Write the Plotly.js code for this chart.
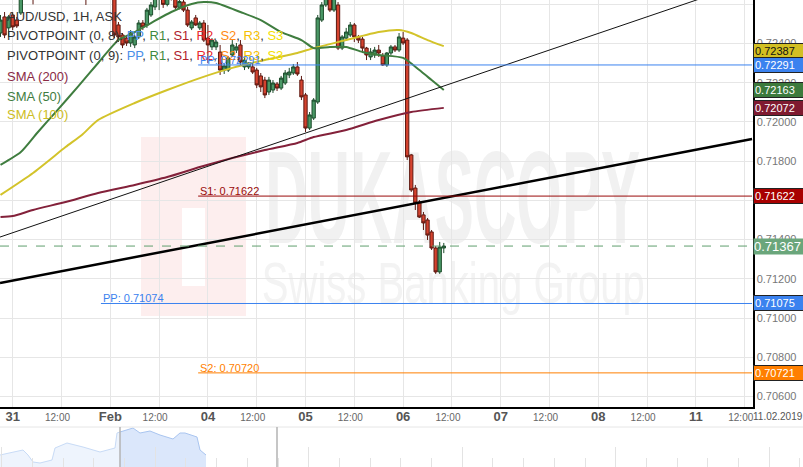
<!DOCTYPE html>
<html><head><meta charset="utf-8">
<script src="https://cdn.plot.ly/plotly-3.0.1.min.js"></script>
<style>html,body{margin:0;padding:0;background:#fff}#chart{width:803px;height:467px}</style>
</head><body><div id="chart"></div>
<script>
// Hour index: 0 = 31 Jan 2019 00:00, weekend hours removed (48 = 04 Feb 00:00)
const candleFirstHour = -3;
const open  = [0.72454,0.72536,0.72480,0.72546,0.72520,0.72556,0.72640,0.72660,0.72650,0.72640,0.72675,0.72710,0.72700,0.72740,0.72730,0.72720,0.72700,0.72720,0.72750,0.72730,0.72700,0.72680,0.72660,0.72640,0.72680,0.72710,0.72690,0.72700,0.72680,0.72495,0.72444,0.72428,0.72403,0.72393,0.72434,0.72505,0.72495,0.72546,0.72587,0.72630,0.72660,0.72600,0.72650,0.72635,0.72585,0.72612,0.72571,0.72480,0.72531,0.72480,0.72505,0.72428,0.72383,0.72383,0.72357,0.72265,0.72265,0.72342,0.72367,0.72393,0.72281,0.72281,0.72281,0.72265,0.72235,0.72214,0.72153,0.72163,0.72194,0.72173,0.72199,0.72240,0.72250,0.72281,0.72214,0.72138,0.71969,0.72020,0.72102,0.72520,0.72597,0.72640,0.72571,0.72597,0.72377,0.72428,0.72444,0.72495,0.72434,0.72423,0.72377,0.72332,0.72342,0.72367,0.72337,0.72291,0.72352,0.72383,0.72367,0.72428,0.72418,0.71832,0.71663,0.71592,0.71526,0.71500,0.71439,0.71357,0.71235,0.71357];
const high  = [0.72546,0.72561,0.72546,0.72561,0.72536,0.72670,0.72670,0.72690,0.72665,0.72680,0.72720,0.72740,0.72750,0.72770,0.72760,0.72750,0.72730,0.72760,0.72780,0.72750,0.72720,0.72700,0.72680,0.72690,0.72720,0.72730,0.72720,0.72720,0.72700,0.72510,0.72454,0.72438,0.72469,0.72444,0.72520,0.72520,0.72582,0.72612,0.72650,0.72670,0.72680,0.72660,0.72670,0.72645,0.72625,0.72630,0.72587,0.72520,0.72546,0.72515,0.72520,0.72495,0.72428,0.72418,0.72393,0.72296,0.72337,0.72418,0.72403,0.72418,0.72327,0.72306,0.72306,0.72276,0.72250,0.72230,0.72230,0.72214,0.72204,0.72235,0.72265,0.72276,0.72296,0.72306,0.72235,0.72148,0.72051,0.72122,0.72546,0.72612,0.72680,0.72670,0.72660,0.72612,0.72444,0.72480,0.72510,0.72505,0.72444,0.72434,0.72383,0.72377,0.72383,0.72393,0.72352,0.72357,0.72393,0.72393,0.72454,0.72459,0.72428,0.71837,0.71679,0.71602,0.71541,0.71510,0.71449,0.71367,0.71388,0.71383];
const low   = [0.72434,0.72428,0.72434,0.72469,0.72480,0.72546,0.72628,0.72640,0.72600,0.72630,0.72660,0.72690,0.72690,0.72720,0.72700,0.72690,0.72670,0.72700,0.72720,0.72690,0.72660,0.72597,0.72640,0.72630,0.72660,0.72670,0.72660,0.72650,0.72428,0.72408,0.72377,0.72388,0.72383,0.72377,0.72423,0.72469,0.72480,0.72536,0.72571,0.72571,0.72582,0.72590,0.72620,0.72575,0.72575,0.72561,0.72485,0.72469,0.72490,0.72469,0.72408,0.72301,0.72367,0.72367,0.72240,0.72245,0.72255,0.72332,0.72352,0.72291,0.72265,0.72270,0.72245,0.72173,0.72153,0.72122,0.72138,0.72148,0.72158,0.72163,0.72189,0.72224,0.72240,0.72235,0.72112,0.71949,0.71959,0.72010,0.72092,0.72510,0.72587,0.72561,0.72561,0.72367,0.72367,0.72418,0.72434,0.72408,0.72403,0.72357,0.72316,0.72316,0.72327,0.72332,0.72286,0.72281,0.72342,0.72357,0.72357,0.72393,0.71806,0.71643,0.71551,0.71510,0.71449,0.71398,0.71347,0.71225,0.71225,0.71331];
const close = [0.72520,0.72444,0.72536,0.72485,0.72490,0.72638,0.72660,0.72650,0.72630,0.72675,0.72710,0.72700,0.72740,0.72730,0.72720,0.72700,0.72720,0.72750,0.72730,0.72700,0.72680,0.72660,0.72640,0.72680,0.72710,0.72690,0.72700,0.72680,0.72444,0.72434,0.72393,0.72403,0.72454,0.72434,0.72505,0.72485,0.72571,0.72597,0.72638,0.72660,0.72600,0.72650,0.72635,0.72585,0.72615,0.72571,0.72495,0.72510,0.72495,0.72505,0.72418,0.72393,0.72418,0.72408,0.72265,0.72286,0.72327,0.72393,0.72383,0.72306,0.72316,0.72301,0.72255,0.72189,0.72179,0.72138,0.72214,0.72199,0.72173,0.72224,0.72250,0.72255,0.72281,0.72245,0.72128,0.71969,0.72036,0.72112,0.72531,0.72597,0.72650,0.72571,0.72633,0.72377,0.72434,0.72459,0.72495,0.72434,0.72418,0.72377,0.72342,0.72357,0.72367,0.72352,0.72291,0.72352,0.72383,0.72367,0.72434,0.72403,0.71822,0.71653,0.71587,0.71515,0.71485,0.71423,0.71357,0.71235,0.71362,0.71367];

// Moving averages (hour index, price)
const sma50Hours  = [-3,2,6,11,16,21,26,30,34,39,44,47,50,56,61,66,71,74,78,82,86,90,96,100,103,106];
const sma50Values = [0.71781,0.71847,0.71944,0.72061,0.72179,0.72301,0.72418,0.72459,0.72505,0.72561,0.72602,0.72612,0.72607,0.72561,0.72520,0.72459,0.72418,0.72377,0.72383,0.72383,0.72357,0.72342,0.72327,0.72265,0.72214,0.72163];
const sma100Hours  = [-3,5,13,17,21,30,38,46,54,62,70,74,82,90,95,98,102,106];
const sma100Values = [0.71628,0.71740,0.71872,0.71934,0.72010,0.72097,0.72163,0.72224,0.72276,0.72316,0.72352,0.72377,0.72418,0.72459,0.72469,0.72454,0.72418,0.72387];
const sma200Hours  = [-3,0,5,13,21,30,38,46,54,62,70,74,82,90,98,106];
const sma200Values = [0.71515,0.71520,0.71551,0.71592,0.71638,0.71679,0.71719,0.71770,0.71816,0.71857,0.71893,0.71923,0.71959,0.72010,0.72051,0.72072];

// Trend lines (hour index, price)
const trendThinHours = [-3.12,181.8];
const trendThinValues = [0.71413,0.72719];
const trendThickHours = [-3.12,181.8];
const trendThickValues = [0.71179,0.71913];

// Pivot levels
const pivotNames  = ['PP','S1','PP','S2'];
const pivotValues = [0.72291,0.71622,0.71074,0.70720];
const pivotStart  = [45.6,45.6,21.7,45.6];
const chartEndHour = 181.8;
const lastPrice = 0.71367;

// Price tags on the right axis
const tagValues = [0.72387,0.72291,0.72163,0.72072,0.71622,0.71075,0.70721];

// Axes
const priceTicks = [0.706,0.708,0.710,0.712,0.714,0.716,0.718,0.720,0.722,0.724,0.726];
const halfDayHours = [12,36,60,84,108,132,156,180];
const dayHours = [0,24,48,72,96,120,144,168];
const dayLabels = ['31','Feb','04','05','06','07','08','11'];

// Navigator (position, height)
const navX1 = [0,23,28,33,40,52,55,67,83,100,115,117,120];
const navY1 = [12,17,12,5,4,7,19,24,20,15,19,34,35];
const navX2 = [120,133,140,150,160,173,180,185,197,200,206];
const navY2 = [35,39,34,36,32,28,34,34,30,17,12];

const FONT = 'Liberation Sans, Arial, sans-serif';
const candleX = open.map((_, i) => candleFirstHour + i);
const xRange = [-3.1227, 182.03];
const yRange = [0.705459, 0.726224];
const XD = 753/803;
const YD0 = 60/467;

const traces = [];
traces.push({type:'candlestick', x:candleX, open:open, high:high, low:low, close:close,
  increasing:{line:{color:'#1d4d2c',width:1}, fillcolor:'#4a9866'},
  decreasing:{line:{color:'#5c1810',width:1}, fillcolor:'#d5432f'},
  whiskerwidth:0, hoverinfo:'skip', showlegend:false, xaxis:'x', yaxis:'y'});
function line(x,y,color,width,dash){
  traces.push({type:'scatter',mode:'lines',x:x,y:y,line:{color:color,width:width,dash:dash||'solid',shape:'spline',smoothing:0.6},hoverinfo:'skip',showlegend:false,xaxis:'x',yaxis:'y'});
}
line(sma200Hours, sma200Values, '#83213a', 2);
line(sma100Hours, sma100Values, '#d3c32a', 2);
line(sma50Hours, sma50Values, '#3f7d3f', 2);
line(trendThinHours, trendThinValues, '#111', 1);
line(trendThickHours, trendThickValues, '#000', 2.5);
const pivotColors = ['#3b82ef','#990a0a','#3b82ef','#ff7f00'];
pivotValues.forEach((v,i)=>line([pivotStart[i],chartEndHour],[v,v],pivotColors[i],1));
line([xRange[0],chartEndHour],[lastPrice,lastPrice],'#5f9e6e',1,'dash');
// invisible helper on the day-label axis
traces.push({type:'scatter',mode:'markers',x:[dayHours[0]],y:[lastPrice],marker:{opacity:0},hoverinfo:'skip',showlegend:false,xaxis:'x2',yaxis:'y'});
// navigator
traces.push({type:'scatter',mode:'lines',x:navX1,y:navY1,fill:'tozeroy',fillcolor:'#eef4fd',line:{color:'#c8dbf6',width:1},hoverinfo:'skip',showlegend:false,xaxis:'x3',yaxis:'y3'});
traces.push({type:'scatter',mode:'lines',x:navX2,y:navY2,fill:'tozeroy',fillcolor:'#dbe7fb',line:{color:'#a9c5f0',width:1},hoverinfo:'skip',showlegend:false,xaxis:'x3',yaxis:'y3'});

const ann = [];
const py = px => 1 - px/467;
function leftText(t,ypx,color){ ann.push({xref:'paper',yref:'paper',x:5/803,y:py(ypx),xanchor:'left',yanchor:'middle',text:t,showarrow:false,font:{family:FONT,size:13,color:color||'#333'}}); }
const sp=(c,t)=>`<span style="color:${c}">${t}</span>`;
const pivLegend = [sp('#4a8fe8','PP'),sp('#3e8a3e','R1'),sp('#b0202c','S1'),sp('#e8282e','R2'),sp('#ff8a14','S2'),sp('#f5bf00','R3'),sp('#f5e000','S3')].join(', ');
// watermark first (moved under the plot after drawing)
ann.push({xref:'paper',yref:'paper',x:452/803,y:py(197),xanchor:'center',yanchor:'middle',text:'DUKASCOPY',showarrow:false,font:{family:FONT,size:132,color:'#f1f1f1',weight:'bold'}});
ann.push({xref:'paper',yref:'paper',x:453/803,y:py(282),xanchor:'center',yanchor:'middle',text:'Swiss Banking Group',showarrow:false,font:{family:FONT,size:58,color:'#f3f3f3'}});
leftText('AUD/USD, 1H, ASK',16);
leftText('PIVOTPOINT (0, 8): '+pivLegend,35);
leftText('PIVOTPOINT (0, 9): '+pivLegend,55);
leftText('SMA (200)',76,'#8a2a45');
leftText('SMA (50)',96,'#3f7d3f');
leftText('SMA (100)',115,'#cdbd22');
pivotValues.forEach((v,i)=>ann.push({xref:'x',yref:'y',x:pivotStart[i],y:v,xanchor:'left',yanchor:'bottom',yshift:-3,text:pivotNames[i]+': '+v.toFixed(5),showarrow:false,font:{family:FONT,size:11,color:pivotColors[i]}}));
const tagColors = ['#d2bf22','#3b82ef','#3c7a3c','#7f1a30','#a80000','#3b82ef','#ff7f00'];
const tagText = ['#111','#fff','#fff','#fff','#fff','#fff','#fff'];
const tagShift = [-5,0,0,0,0,0,0];
tagValues.forEach((v,i)=>ann.push({xref:'paper',yref:'y',x:XD,y:v,yshift:tagShift[i],xanchor:'left',yanchor:'middle',text:v.toFixed(5),showarrow:false,align:'left',width:48,height:12,borderpad:1,bgcolor:tagColors[i],bordercolor:'#222',borderwidth:1,font:{family:FONT,size:11,color:tagText[i]}}));
ann.push({xref:'paper',yref:'y',x:XD,y:lastPrice,xanchor:'left',yanchor:'middle',text:lastPrice.toFixed(5),showarrow:false,align:'left',width:50,height:15,borderpad:0,bgcolor:'#6aa67b',font:{family:FONT,size:13,color:'#fff'}});
ann.push({xref:'paper',yref:'paper',x:778/803,y:py(416),xanchor:'center',yanchor:'middle',text:'11.02.2019',showarrow:false,font:{family:FONT,size:10,color:'#555'}});

const shapes = [
  {type:'rect',xref:'paper',yref:'paper',x0:141/803,x1:246/803,y0:py(316),y1:py(137),fillcolor:'#fdeeee',line:{width:0},layer:'below'},
  {type:'rect',xref:'paper',yref:'paper',x0:182/803,x1:205/803,y0:py(286),y1:py(208),fillcolor:'#ffffff',line:{width:0},layer:'below'},
  {type:'line',xref:'paper',yref:'paper',x0:0,x1:1,y0:40/467,y1:40/467,line:{color:'#e6e6e6',width:1}},
  {type:'line',xref:'x3',yref:'y3',x0:120,x1:120,y0:0,y1:40,line:{color:'#b3b3b3',width:1.5}},
  {type:'line',xref:'x3',yref:'y3',x0:277,x1:277,y0:0,y1:40,line:{color:'#b3b3b3',width:1.5}}
];

const layout = {
  width:803,height:467,margin:{l:0,r:0,t:0,b:0},paper_bgcolor:'#fff',plot_bgcolor:'rgba(0,0,0,0)',
  showlegend:false,font:{family:FONT},boxgap:0.12,boxgroupgap:0.08,
  xaxis:{domain:[0,XD],range:xRange,anchor:'y',rangeslider:{visible:false},showgrid:true,gridcolor:'#e6e6e6',gridwidth:1,
    tickmode:'array',tickvals:dayHours.concat(halfDayHours),ticktext:dayHours.map(()=>'').concat(halfDayHours.map(()=>'12:00')),
    tickfont:{family:FONT,size:10,color:'#666'},ticklabelshift:-4,ticks:'',showline:true,linecolor:'#000',linewidth:1.5,zeroline:false,fixedrange:true},
  xaxis2:{overlaying:'x',anchor:'y',side:'bottom',range:xRange,showgrid:false,zeroline:false,tickmode:'array',tickvals:dayHours,ticktext:dayLabels,
    tickfont:{family:FONT,size:13,color:'#555',weight:'bold'},ticks:'',showline:false},
  yaxis:{domain:[YD0,1],range:yRange,side:'right',anchor:'x',showgrid:true,gridcolor:'#e6e6e6',tickmode:'array',tickvals:priceTicks,tickformat:'.5f',
    tickfont:{family:FONT,size:11,color:'#777'},ticks:'',showline:true,linecolor:'#000',linewidth:1.5,zeroline:false},
  xaxis3:{domain:[0,1],range:[0,803],anchor:'y3',showgrid:false,zeroline:false,showticklabels:false,tick0:1.7,dtick:153.5,ticks:'inside',ticklen:20,tickcolor:'#e3e3e3',
    minor:{tick0:1.7,dtick:30.7,ticks:'inside',ticklen:9,tickcolor:'#e3e3e3',showgrid:false},showline:false},
  yaxis3:{domain:[0,40/467],range:[0,40],anchor:'x3',showgrid:false,zeroline:false,showticklabels:false,showline:false},
  annotations:ann,shapes:shapes
};
Plotly.newPlot('chart',traces,layout,{staticPlot:true}).then(()=>{
  const below = document.querySelector('.main-svg .layer-below');
  document.querySelectorAll('.annotation-text').forEach(t=>{
    const s=t.textContent;
    let len=null;
    if(s==='DUKASCOPY') len='375';
    if(s==='Swiss Banking Group') len='383';
    if(len){
      t.setAttribute('textLength',len);t.setAttribute('lengthAdjust','spacingAndGlyphs');
      const g=t.closest('.annotation');
      if(g && below) below.appendChild(g);
    }
  });
});
</script></body></html>
